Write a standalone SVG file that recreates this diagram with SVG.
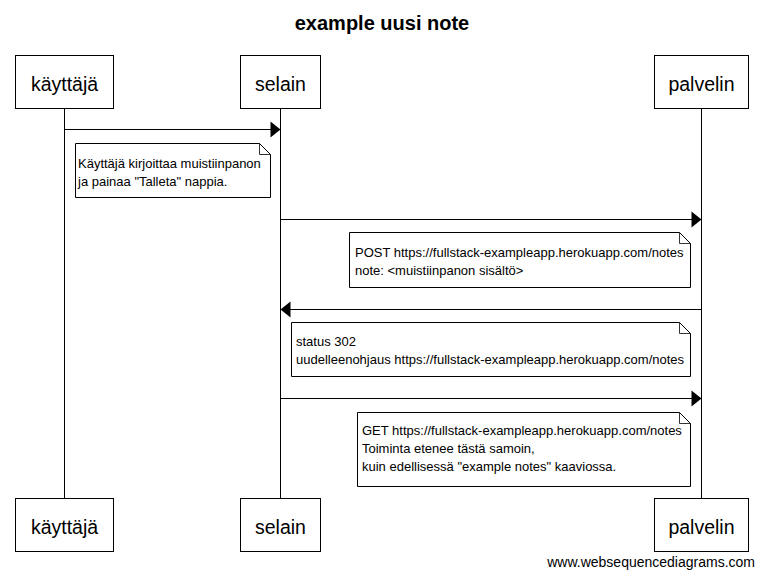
<svg xmlns="http://www.w3.org/2000/svg" width="762" height="576" viewBox="0 0 762 576">
<style>
.box{fill:#fff;stroke:#000;stroke-width:1}
.life{stroke:#000;stroke-width:1}
.msg{stroke:#000;stroke-width:1;fill:none}
.head{fill:#000}
.note{fill:#fff;stroke:#000;stroke-width:1}
.fold{fill:none;stroke:#000;stroke-width:0.8}
.pt{font-family:"Liberation Sans",Arial,sans-serif;font-size:19.5px;fill:#000;text-anchor:middle}
.nt{font-family:"Liberation Sans",Arial,sans-serif;font-size:13px;fill:#000}
.title{font-family:"Liberation Sans",Arial,sans-serif;font-size:20px;font-weight:bold;fill:#000;text-anchor:middle}
.foot{font-family:"Liberation Sans",Arial,sans-serif;font-size:14px;fill:#000;text-anchor:end}
</style>
<rect width="762" height="576" fill="#fff"/>
<text class="title" x="382" y="29.5">example uusi note</text>

<g id="lifelines">
<line class="life" x1="64.5" y1="108.5" x2="64.5" y2="498.5"/>
<line class="life" x1="280.5" y1="108.5" x2="280.5" y2="498.5"/>
<line class="life" x1="701.5" y1="108.5" x2="701.5" y2="498.5"/>
</g>

<g id="node-kayttaja">
<rect class="box" x="15.5" y="55.5" width="98" height="53"/>
<text class="pt" x="64.5" y="90.5">käyttäjä</text>
<rect class="box" x="15.5" y="498.5" width="98" height="53"/>
<text class="pt" x="64.5" y="533.5">käyttäjä</text>
</g>
<g id="node-selain">
<rect class="box" x="240.5" y="55.5" width="80" height="53"/>
<text class="pt" x="280.5" y="90.5">selain</text>
<rect class="box" x="240.5" y="498.5" width="80" height="53"/>
<text class="pt" x="280.5" y="533.5">selain</text>
</g>
<g id="node-palvelin">
<rect class="box" x="654.5" y="55.5" width="94" height="53"/>
<text class="pt" x="701.5" y="90.5">palvelin</text>
<rect class="box" x="654.5" y="498.5" width="94" height="53"/>
<text class="pt" x="701.5" y="533.5">palvelin</text>
</g>

<g id="connectors">
<line class="msg" x1="64.5" y1="129.5" x2="271" y2="129.5"/>
<polygon class="head" points="280.5,129.5 270.5,121.5 270.5,137.5"/>
<line class="msg" x1="280.5" y1="219.5" x2="692" y2="219.5"/>
<polygon class="head" points="701.5,219.5 691.5,211.5 691.5,227.5"/>
<line class="msg" x1="701.5" y1="309.5" x2="290" y2="309.5"/>
<polygon class="head" points="280.5,309.5 290.5,301.5 290.5,317.5"/>
<line class="msg" x1="280.5" y1="398.5" x2="692" y2="398.5"/>
<polygon class="head" points="701.5,398.5 691.5,390.5 691.5,406.5"/>
</g>

<g id="note-1">
<path class="note" d="M75.5,143.5 H259.5 L270.5,154.5 V197.5 H75.5 Z"/>
<path class="fold" d="M259.5,143.5 V154.5 H270.5"/>
<text class="nt" x="78" y="168">Käyttäjä kirjoittaa muistiinpanon</text>
<text class="nt" x="78" y="186">ja painaa "Talleta" nappia.</text>
</g>
<g id="note-2">
<path class="note" d="M349.5,232.5 H679.5 L690.5,243.5 V287.5 H349.5 Z"/>
<path class="fold" d="M679.5,232.5 V243.5 H690.5"/>
<text class="nt" x="355" y="257">POST https://fullstack-exampleapp.herokuapp.com/notes</text>
<text class="nt" x="355" y="275">note: &lt;muistiinpanon sisältö&gt;</text>
</g>
<g id="note-3">
<path class="note" d="M291.5,322.5 H679.5 L690.5,333.5 V376.5 H291.5 Z"/>
<path class="fold" d="M679.5,322.5 V333.5 H690.5"/>
<text class="nt" x="296" y="346">status 302</text>
<text class="nt" x="296" y="364">uudelleenohjaus https://fullstack-exampleapp.herokuapp.com/notes</text>
</g>
<g id="note-4">
<path class="note" d="M357.5,412.5 H679.5 L690.5,423.5 V486.5 H357.5 Z"/>
<path class="fold" d="M679.5,412.5 V423.5 H690.5"/>
<text class="nt" x="362" y="434.5">GET https://fullstack-exampleapp.herokuapp.com/notes</text>
<text class="nt" x="362" y="452.5">Toiminta etenee tästä samoin,</text>
<text class="nt" x="362" y="470.5">kuin edellisessä "example notes" kaaviossa.</text>
</g>

<text class="foot" x="755" y="567">www.websequencediagrams.com</text>
</svg>
